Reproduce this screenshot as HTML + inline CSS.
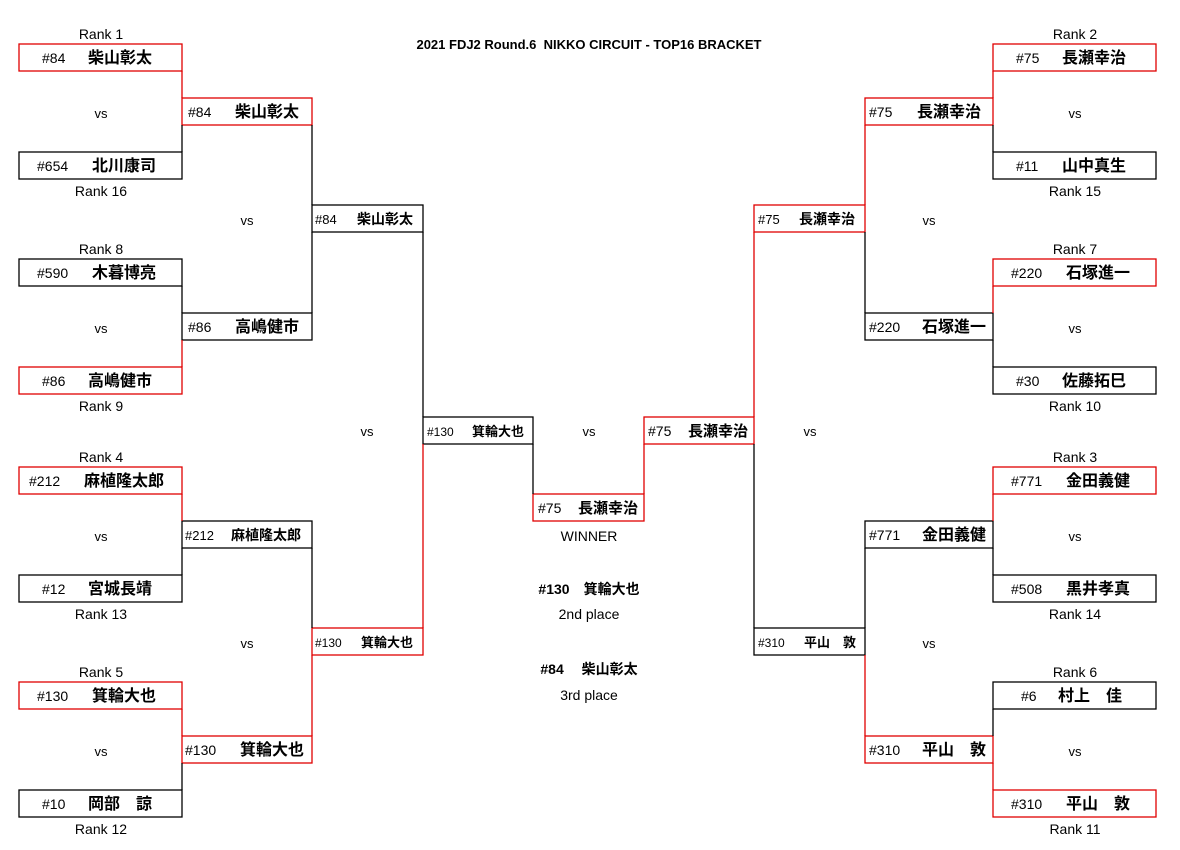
<!DOCTYPE html>
<html><head><meta charset="utf-8"><style>
body{margin:0;background:#fff}
svg{display:block}
text{font-family:"Liberation Sans","Noto Sans CJK JP",sans-serif;fill:#000}
.n{font-size:14px}
.m{font-size:16px;font-weight:bold}
.s{font-size:13px}
.ms{font-size:14px;font-weight:bold}
.r{font-size:14px;text-anchor:middle}
.v{font-size:13px;text-anchor:middle}
</style></head><body>
<svg width="1180" height="850" xmlns="http://www.w3.org/2000/svg">
<g fill="#fff" stroke-width="1.3">
<!-- left R1 -->
<rect x="19" y="44" width="163" height="27" stroke="#e00000"/>
<rect x="19" y="152" width="163" height="27" stroke="#000"/>
<rect x="19" y="259" width="163" height="27" stroke="#000"/>
<rect x="19" y="367" width="163" height="27" stroke="#e00000"/>
<rect x="19" y="467" width="163" height="27" stroke="#e00000"/>
<rect x="19" y="575" width="163" height="27" stroke="#000"/>
<rect x="19" y="682" width="163" height="27" stroke="#e00000"/>
<rect x="19" y="790" width="163" height="27" stroke="#000"/>
<!-- left R2 -->
<rect x="182" y="98" width="130" height="27" stroke="#e00000"/>
<rect x="182" y="313" width="130" height="27" stroke="#000"/>
<rect x="182" y="521" width="130" height="27" stroke="#000"/>
<rect x="182" y="736" width="130" height="27" stroke="#e00000"/>
<!-- left R3 -->
<rect x="312" y="205" width="111" height="27" stroke="#000"/>
<rect x="312" y="628" width="111" height="27" stroke="#e00000"/>
<rect x="423" y="417" width="110" height="27" stroke="#000"/>
<rect x="533" y="494" width="111" height="27" stroke="#e00000"/>
<rect x="644" y="417" width="110" height="27" stroke="#e00000"/>
<!-- right R3 -->
<rect x="754" y="205" width="111" height="27" stroke="#e00000"/>
<rect x="754" y="628" width="111" height="27" stroke="#000"/>
<!-- right R2 -->
<rect x="865" y="98" width="128" height="27" stroke="#e00000"/>
<rect x="865" y="313" width="128" height="27" stroke="#000"/>
<rect x="865" y="521" width="128" height="27" stroke="#000"/>
<rect x="865" y="736" width="128" height="27" stroke="#e00000"/>
<!-- right R1 -->
<rect x="993" y="44" width="163" height="27" stroke="#e00000"/>
<rect x="993" y="152" width="163" height="27" stroke="#000"/>
<rect x="993" y="259" width="163" height="27" stroke="#e00000"/>
<rect x="993" y="367" width="163" height="27" stroke="#000"/>
<rect x="993" y="467" width="163" height="27" stroke="#e00000"/>
<rect x="993" y="575" width="163" height="27" stroke="#000"/>
<rect x="993" y="682" width="163" height="27" stroke="#000"/>
<rect x="993" y="790" width="163" height="27" stroke="#e00000"/>
</g>
<g stroke-width="1.3">
<path stroke="#e00000" d="M182 71V98M182 340V367M182 494V521M182 709V736M312 655V736M423 444V628M644 444V494M754 232V417M865 125V205M865 655V736M993 71V98M993 286V313M993 494V521M993 763V790"/>
<path stroke="#000" d="M182 125V152M182 286V313M182 548V575M182 763V790M312 125V205M312 232V313M312 548V628M423 232V417M533 444V494M754 444V628M865 232V313M865 548V628M993 125V152M993 340V367M993 548V575M993 709V736"/>
</g>
<text x="589" y="49" style="font-size:13px;font-weight:bold;text-anchor:middle">2021 FDJ2 Round.6&#160; NIKKO CIRCUIT - TOP16 BRACKET</text>
<!-- left R1 text -->
<g>
<text class="r" x="101" y="39">Rank 1</text><text class="n" x="42" y="63">#84</text><text class="m" x="88" y="63">柴山彰太</text>
<text class="v" x="101" y="118">vs</text>
<text class="n" x="37" y="171">#654</text><text class="m" x="92" y="171">北川康司</text><text class="r" x="101" y="196">Rank 16</text>
<text class="r" x="101" y="254">Rank 8</text><text class="n" x="37" y="278">#590</text><text class="m" x="92" y="278">木暮博亮</text>
<text class="v" x="101" y="333">vs</text>
<text class="n" x="42" y="386">#86</text><text class="m" x="88" y="386">高嶋健市</text><text class="r" x="101" y="411">Rank 9</text>
<text class="r" x="101" y="462">Rank 4</text><text class="n" x="29" y="486">#212</text><text class="m" x="84" y="486">麻植隆太郎</text>
<text class="v" x="101" y="541">vs</text>
<text class="n" x="42" y="594">#12</text><text class="m" x="88" y="594">宮城長靖</text><text class="r" x="101" y="619">Rank 13</text>
<text class="r" x="101" y="677">Rank 5</text><text class="n" x="37" y="701">#130</text><text class="m" x="92" y="701">箕輪大也</text>
<text class="v" x="101" y="756">vs</text>
<text class="n" x="42" y="809">#10</text><text class="m" x="88" y="809">岡部　諒</text><text class="r" x="101" y="834">Rank 12</text>
</g>
<!-- left R2 -->
<text class="n" x="188" y="117">#84</text><text class="m" x="235" y="117">柴山彰太</text>
<text class="v" x="247" y="225">vs</text>
<text class="n" x="188" y="332">#86</text><text class="m" x="235" y="332">高嶋健市</text>
<text class="s" x="185" y="540">#212</text><text class="ms" x="231" y="540">麻植隆太郎</text>
<text class="v" x="247" y="648">vs</text>
<text class="n" x="185" y="755">#130</text><text class="m" x="240" y="755">箕輪大也</text>
<!-- left R3 -->
<text class="s" x="315" y="224">#84</text><text class="ms" x="357" y="224">柴山彰太</text>
<text class="s" x="315" y="647" style="font-size:12px">#130</text><text class="ms" x="361" y="647" style="font-size:13px">箕輪大也</text>
<text class="v" x="367" y="436">vs</text>
<text class="s" x="427" y="436" style="font-size:12px">#130</text><text class="ms" x="472" y="436" style="font-size:13px">箕輪大也</text>
<text class="v" x="589" y="436">vs</text>
<text class="n" x="648" y="436">#75</text><text class="m" x="688" y="436" style="font-size:15px">長瀬幸治</text>
<text class="n" x="538" y="513">#75</text><text class="m" x="578" y="513" style="font-size:15px">長瀬幸治</text>
<text class="v" x="589" y="541" style="font-size:14px">WINNER</text>
<text x="589" y="594" style="font-size:14px;font-weight:bold;text-anchor:middle">#130　箕輪大也</text>
<text class="v" x="589" y="619" style="font-size:14px">2nd place</text>
<text x="589" y="674" style="font-size:14px;font-weight:bold;text-anchor:middle">#84　 柴山彰太</text>
<text class="v" x="589" y="700" style="font-size:14px">3rd place</text>
<text class="v" x="810" y="436">vs</text>
<!-- right R3 -->
<text class="s" x="758" y="224">#75</text><text class="ms" x="799" y="224">長瀬幸治</text>
<text class="s" x="758" y="647" style="font-size:12px">#310</text><text class="ms" x="804" y="647" style="font-size:13px">平山　敦</text>
<!-- right R2 -->
<text class="n" x="869" y="117">#75</text><text class="m" x="917" y="117">長瀬幸治</text>
<text class="v" x="929" y="225">vs</text>
<text class="n" x="869" y="332">#220</text><text class="m" x="922" y="332">石塚進一</text>
<text class="n" x="869" y="540">#771</text><text class="m" x="922" y="540">金田義健</text>
<text class="v" x="929" y="648">vs</text>
<text class="n" x="869" y="755">#310</text><text class="m" x="922" y="755">平山　敦</text>
<!-- right R1 -->
<g>
<text class="r" x="1075" y="39">Rank 2</text><text class="n" x="1016" y="63">#75</text><text class="m" x="1062" y="63">長瀬幸治</text>
<text class="v" x="1075" y="118">vs</text>
<text class="n" x="1016" y="171">#11</text><text class="m" x="1062" y="171">山中真生</text><text class="r" x="1075" y="196">Rank 15</text>
<text class="r" x="1075" y="254">Rank 7</text><text class="n" x="1011" y="278">#220</text><text class="m" x="1066" y="278">石塚進一</text>
<text class="v" x="1075" y="333">vs</text>
<text class="n" x="1016" y="386">#30</text><text class="m" x="1062" y="386">佐藤拓巳</text><text class="r" x="1075" y="411">Rank 10</text>
<text class="r" x="1075" y="462">Rank 3</text><text class="n" x="1011" y="486">#771</text><text class="m" x="1066" y="486">金田義健</text>
<text class="v" x="1075" y="541">vs</text>
<text class="n" x="1011" y="594">#508</text><text class="m" x="1066" y="594">黒井孝真</text><text class="r" x="1075" y="619">Rank 14</text>
<text class="r" x="1075" y="677">Rank 6</text><text class="n" x="1021" y="701">#6</text><text class="m" x="1058" y="701">村上　佳</text>
<text class="v" x="1075" y="756">vs</text>
<text class="n" x="1011" y="809">#310</text><text class="m" x="1066" y="809">平山　敦</text><text class="r" x="1075" y="834">Rank 11</text>
</g>
</svg>
</body></html>
